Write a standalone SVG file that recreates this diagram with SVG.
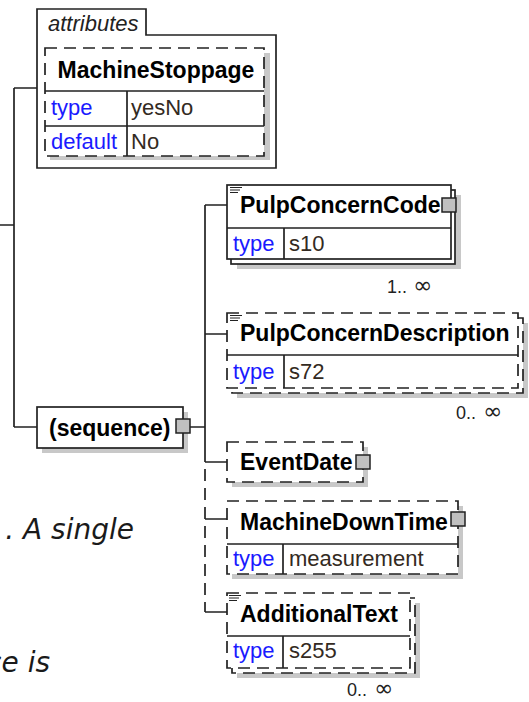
<svg xmlns="http://www.w3.org/2000/svg" width="529" height="702" viewBox="0 0 529 702">
<style>
.bg{fill:#fff}
.box{fill:#fff;stroke:#222;stroke-width:1.7}
.dash{stroke-dasharray:12 7}
.ln{fill:none;stroke:#222;stroke-width:1.7}
.sh{fill:#c8c8c8}
.plus{fill:#c0c0c0;stroke:#222;stroke-width:1.5}
.doc{stroke:#222;stroke-width:1.1}
.t{font-family:"Liberation Sans",Arial,sans-serif;font-weight:bold;font-size:23px;fill:#000}
.k{font-family:"Liberation Sans",Arial,sans-serif;font-size:22px;fill:#1a1aff}
.v{font-family:"Liberation Sans",Arial,sans-serif;font-size:22px;fill:#332a22}
.c{font-family:"Liberation Sans",Arial,sans-serif;font-size:18px;fill:#222}
.inf{font-family:"DejaVu Sans",sans-serif;font-size:23px;fill:#222}
.it{font-family:"DejaVu Sans",Verdana,sans-serif;font-style:italic;font-size:28px;fill:#1a1a1a}
</style>
<rect class="bg" x="0" y="0" width="529" height="702"/>

<g id="connectors">
<path class="ln" d="M0,225 H14 M14,88 V427 M14,88 H37 M14,427 H37 M190,427 H205 M205,205 V450 M205,205 H227 M205,334 H227 M205,462 H227 M205,519 H227 M205,612 H227"/>
<path class="ln dash" d="M205,450 V612"/>
</g>

<g id="attributes">
<path class="box" d="M37,168 V9 H146 V35 H276 V168 Z"/>
<text x="48" y="31" font-family="Liberation Sans, Arial, sans-serif" font-style="italic" font-size="22" fill="#222">attributes</text>
<g id="MachineStoppage">
<rect class="sh" x="50" y="53" width="220" height="107"/>
<rect class="box dash" x="45" y="48" width="219" height="108"/>
<path class="ln" d="M45,91 H264 M45,126 H264 M127,91 V156"/>
<text class="t" x="156" y="78" text-anchor="middle">MachineStoppage</text>
<text class="k" x="51" y="115">type</text>
<text class="v" x="131" y="115">yesNo</text>
<text class="k" x="51" y="149">default</text>
<text class="v" x="131" y="149">No</text>
</g>
</g>

<g id="sequence">
<rect class="sh" x="42" y="412" width="146" height="41"/>
<rect class="box" x="37" y="407" width="146" height="41"/>
<text class="t" x="49" y="436" font-size="21.5">(sequence)</text>
<rect class="plus" x="176" y="419" width="14" height="14"/>
</g>

<g id="PulpConcernCode">
<rect class="sh" x="237" y="195" width="224" height="74"/>
<rect class="box" x="231" y="190" width="224" height="74"/>
<rect class="box" x="227" y="185" width="224" height="74"/>
<path class="ln" d="M227,228 H451 M284,228 V259"/>
<path class="doc" d="M230,187.5 H242 M230,190 H240 M230,192.5 H238"/>
<text class="t" x="240" y="213">PulpConcernCode</text>
<text class="k" x="233" y="251">type</text>
<text class="v" x="289" y="251">s10</text>
<rect class="plus" x="442" y="198" width="14" height="14"/>
<text class="c" x="387" y="293">1..</text>
<text class="inf" x="413" y="293">∞</text>
</g>

<g id="PulpConcernDescription">
<rect class="sh" x="237" y="323" width="291" height="75"/>
<rect class="box dash" x="232" y="318" width="291" height="75"/>
<rect class="box dash" x="227" y="313" width="291" height="75"/>
<path class="ln" d="M227,355 H518 M284,355 V388"/>
<path class="doc" d="M230,315.5 H242 M230,318 H240 M230,320.5 H238"/>
<text class="t" x="240" y="341">PulpConcernDescription</text>
<text class="k" x="233" y="379">type</text>
<text class="v" x="289" y="379">s72</text>
<text class="c" x="456" y="419">0..</text>
<text class="inf" x="483" y="419">∞</text>
</g>

<g id="EventDate">
<rect class="sh" x="232" y="447" width="136" height="40"/>
<rect class="box dash" x="227" y="442" width="136" height="40"/>
<text class="t" x="240" y="470">EventDate</text>
<rect class="plus" x="356" y="455" width="14" height="14"/>
</g>

<g id="MachineDownTime">
<rect class="sh" x="232" y="506" width="231" height="73"/>
<rect class="box dash" x="227" y="501" width="231" height="73"/>
<path class="ln" d="M227,544 H458 M283,544 V574"/>
<text class="t" x="240" y="530">MachineDownTime</text>
<text class="k" x="233" y="566">type</text>
<text class="v" x="289" y="566">measurement</text>
<rect class="plus" x="451" y="512" width="14" height="14"/>
</g>

<g id="AdditionalText">
<rect class="sh" x="237" y="603" width="183" height="75"/>
<rect class="box dash" x="232" y="598" width="183" height="75"/>
<rect class="box dash" x="227" y="593" width="183" height="75"/>
<path class="ln" d="M227,636 H410 M283,636 V668"/>
<path class="doc" d="M229,595.5 H241 M229,598 H239 M229,600.5 H237"/>
<text class="t" x="240" y="622">AdditionalText</text>
<text class="k" x="233" y="658">type</text>
<text class="v" x="289" y="658">s255</text>
<text class="c" x="347" y="696">0..</text>
<text class="inf" x="374" y="696">∞</text>
</g>

<g id="note">
<text class="it" x="134" y="539" text-anchor="end">. A single</text>
<text class="it" x="50" y="672" text-anchor="end">ce is</text>
</g>
</svg>
